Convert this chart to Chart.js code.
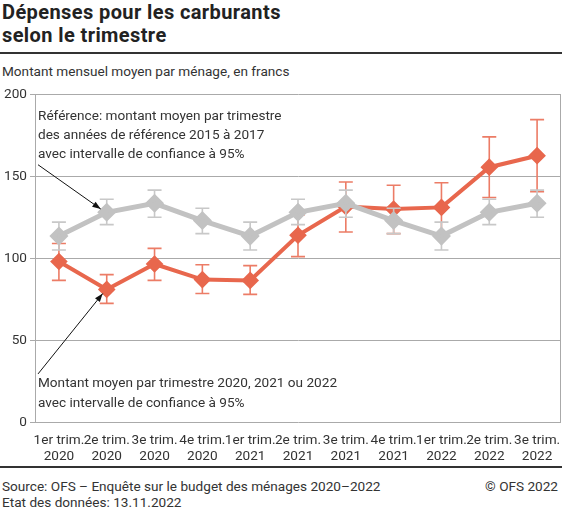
<!DOCTYPE html>
<html>
<head>
<meta charset="utf-8">
<script src="https://cdn.jsdelivr.net/npm/chart.js@4"></script>
<style>
  body { margin: 0; width: 562px; height: 511px; position: relative; font-family: Roboto, sans-serif; color: #333; background: #fff; overflow: hidden; }
  #title { position: absolute; left: 2px; top: 1px; font-size: 20px; letter-spacing: 0.4px; font-weight: bold; line-height: 22.5px; color: #222; }
  #rule1 { position: absolute; left: 0; top: 52px; width: 562px; height: 2px; background: #333; }
  #subtitle { position: absolute; left: 2px; top: 63px; font-size: 13.6px; }
  #chartBox { position: absolute; left: 0; top: 83px; width: 572px; height: 392px; }
  #rule2 { position: absolute; left: 0; top: 466px; width: 562px; height: 1.5px; background: #333; }
  #source { position: absolute; left: 2px; top: 478px; font-size: 13.6px; line-height: 16px; }
  #copy { position: absolute; right: 4px; top: 478px; font-size: 13.6px; }
</style>
</head>
<body>
<div id="title">Dépenses pour les carburants<br>selon le trimestre</div>
<div id="rule1"></div>
<div id="subtitle">Montant mensuel moyen par ménage, en francs</div>
<div id="chartBox"><canvas id="chart"></canvas></div>
<div id="rule2"></div>
<div id="source">Source: OFS – Enquête sur le budget des ménages 2020–2022<br>Etat des données: 13.11.2022</div>
<div id="copy">© OFS 2022</div>
<script>
const quarters = ['1er trim.', '2e trim.', '3e trim.', '4e trim.', '1er trim.', '2e trim.', '3e trim.', '4e trim.', '1er trim.', '2e trim.', '3e trim.'];
const years = ['2020', '2020', '2020', '2020', '2021', '2021', '2021', '2021', '2022', '2022', '2022'];

const refValues = [113.5, 128, 133.5, 123, 113.5, 128, 133.5, 123, 113.5, 128, 133.5];
const refLow = [105, 120.5, 125, 115, 105, 120.5, 125, 115, 105, 120.5, 125];
const refHigh = [122, 136, 141.5, 130.5, 122, 136, 141.5, 130.5, 122, 136, 141.5];

const curValues = [98, 81, 96.5, 87, 86.5, 114, 131.5, 130, 131, 155.5, 162.5];
const curLow = [86.5, 72.5, 86.5, 78.5, 78, 101, 116, 115, 115.5, 137, 140.5];
const curHigh = [109, 90, 106, 96, 95.5, 126.5, 146.5, 144.5, 146, 174, 184.5];

const grey = '#c2c2c2';
const orange = '#e8674d';

const labels = quarters.map((q, i) => [q, years[i]]);

// error bars drawn under each line
const errorBars = {
  id: 'errorBars',
  beforeDatasetDraw(chart, args) {
    const ctx = chart.ctx;
    const x = chart.scales.x;
    const y = chart.scales.y;
    const low = args.index === 0 ? refLow : curLow;
    const high = args.index === 0 ? refHigh : curHigh;
    ctx.save();
    ctx.strokeStyle = args.index === 0 ? '#c8c8c8' : '#ec7c66';
    ctx.lineWidth = 1.6;
    for (let i = 0; i < low.length; i++) {
      const px = x.getPixelForValue(i);
      const y1 = y.getPixelForValue(low[i]);
      const y2 = y.getPixelForValue(high[i]);
      ctx.beginPath();
      ctx.moveTo(px, y1); ctx.lineTo(px, y2);
      ctx.moveTo(px - 7, y1); ctx.lineTo(px + 7, y1);
      ctx.moveTo(px - 7, y2); ctx.lineTo(px + 7, y2);
      ctx.stroke();
    }
    ctx.restore();
  }
};

function arrow(ctx, x1, y1, x2, y2) {
  const a = Math.atan2(y2 - y1, x2 - x1);
  ctx.beginPath();
  ctx.moveTo(x1, y1);
  ctx.lineTo(x2, y2);
  ctx.stroke();
  ctx.beginPath();
  ctx.moveTo(x2, y2);
  ctx.lineTo(x2 - 9 * Math.cos(a - 0.35), y2 - 9 * Math.sin(a - 0.35));
  ctx.lineTo(x2 - 9 * Math.cos(a + 0.35), y2 - 9 * Math.sin(a + 0.35));
  ctx.closePath();
  ctx.fill();
}

const notes = {
  id: 'notes',
  beforeDatasetsDraw(chart) {
    const ctx = chart.ctx;
    const a = chart.chartArea;
    ctx.save();
    ctx.strokeStyle = '#aaaaaa';
    ctx.lineWidth = 1;
    ctx.beginPath();
    ctx.moveTo(a.right - 0.5, a.top);
    ctx.lineTo(a.right - 0.5, a.bottom);
    ctx.stroke();
    ctx.restore();
  },
  afterDatasetsDraw(chart) {
    const ctx = chart.ctx;
    const a = chart.chartArea;
    const x = chart.scales.x;
    const y = chart.scales.y;
    ctx.save();
    ctx.fillStyle = '#333';
    ctx.font = '13.6px Roboto, sans-serif';
    ctx.textBaseline = 'middle';
    const tx = a.left + 3;
    ctx.fillText('Référence: montant moyen par trimestre', tx, y.getPixelForValue(186.5));
    ctx.fillText('des années de référence 2015 à 2017', tx, y.getPixelForValue(174.5));
    ctx.fillText('avec intervalle de confiance à 95%', tx, y.getPixelForValue(163));
    ctx.fillText('Montant moyen par trimestre 2020, 2021 ou 2022', tx, y.getPixelForValue(23.5));
    ctx.fillText('avec intervalle de confiance à 95%', tx, y.getPixelForValue(11.5));
    ctx.strokeStyle = '#111';
    ctx.fillStyle = '#111';
    ctx.lineWidth = 1;
    const p1 = x.getPixelForValue(1);
    arrow(ctx, tx, y.getPixelForValue(157), p1 - 6, y.getPixelForValue(130));
    arrow(ctx, tx, y.getPixelForValue(29.5), p1 - 4, y.getPixelForValue(78.5));
    ctx.restore();
  }
};

new Chart(document.getElementById('chart'), {
  type: 'line',
  data: {
    labels: labels,
    datasets: [{
      label: 'Référence',
      data: refValues,
      borderColor: grey,
      backgroundColor: grey,
      borderWidth: 5,
      pointStyle: 'rectRot',
      pointRadius: 6,
      pointHoverRadius: 6,
      tension: 0
    }, {
      label: '2020-2022',
      data: curValues,
      borderColor: orange,
      backgroundColor: orange,
      borderWidth: 4,
      pointStyle: 'rectRot',
      pointRadius: 6,
      pointHoverRadius: 6,
      tension: 0
    }]
  },
  options: {
    responsive: true,
    maintainAspectRatio: false,
    animation: false,
    layout: { padding: { top: 5, right: 3, left: 0, bottom: 0 } },
    plugins: {
      legend: { display: false },
      tooltip: { enabled: false }
    },
    scales: {
      x: {
        offset: true,
        grid: { display: false, drawTicks: false },
        border: { display: false },
        ticks: {
          autoSkip: false,
          maxRotation: 0,
          padding: 10,
          color: '#333',
          font: { family: 'Roboto', size: 13.6, lineHeight: 1.2 }
        }
      },
      y: {
        min: 0,
        max: 200,
        afterFit(scale) { scale.width = 35; },
        grid: { color: '#aaaaaa', lineWidth: 1, tickLength: 5 },
        border: { display: true, color: '#aaaaaa' },
        ticks: {
          stepSize: 50,
          padding: 3,
          color: '#333',
          font: { family: 'Roboto', size: 13.6 }
        }
      }
    }
  },
  plugins: [errorBars, notes]
});
</script>
</body>
</html>
